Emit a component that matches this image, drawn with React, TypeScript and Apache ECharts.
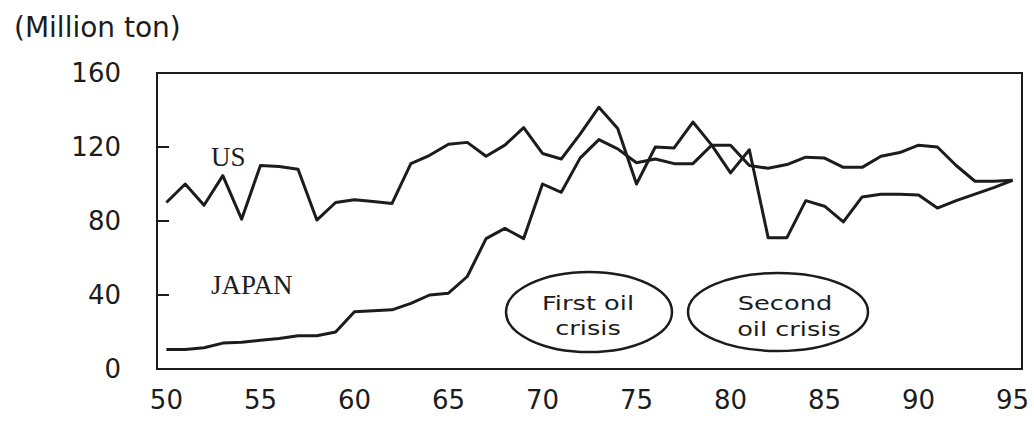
import React, { useEffect, useRef } from "react";
import * as echarts from "echarts";

const years = [
  50, 51, 52, 53, 54, 55, 56, 57, 58, 59,
  60, 61, 62, 63, 64, 65, 66, 67, 68, 69,
  70, 71, 72, 73, 74, 75, 76, 77, 78, 79,
  80, 81, 82, 83, 84, 85, 86, 87, 88, 89,
  90, 91, 92, 93, 94, 95,
];

const usOutput = [
  90, 100, 88.5, 104.5, 81, 110, 109.5, 108, 80.5, 90,
  91.5, 90.5, 89.5, 111, 115.5, 121.5, 122.5, 115, 121, 130.5,
  116.5, 113.5, 127, 141.5, 130, 100, 120, 119.5, 133.5, 121,
  106, 118.5, 71, 71, 91, 88, 79.5, 93, 94.5, 94.5,
  94, 87, 91, 94.5, 98, 102,
];

const japanOutput = [
  10.5, 10.5, 11.5, 14, 14.5, 15.5, 16.5, 18, 18, 20,
  31, 31.5, 32, 35.5, 40, 41, 50, 70.5, 76, 70.5,
  100, 95.5, 114, 124, 119, 111.5, 113.5, 111, 111, 121,
  121, 110, 108.5, 110.5, 114.5, 114, 109, 109, 115, 117,
  121, 120, 110, 101.5, 101.5, 102,
];

const xTickLabels = [50, 55, 60, 65, 70, 75, 80, 85, 90, 95];
const yMin = 0;
const yMax = 160;
const yStep = 40;

const INK = "#1c1c1c";
const SANS = "'DejaVu Sans', 'Liberation Sans', sans-serif";
const SERIF = "'Liberation Serif', 'DejaVu Serif', serif";

export default function App() {
  const ref = useRef<HTMLDivElement | null>(null);

  useEffect(() => {
    if (!ref.current) return;
    const chart = echarts.init(ref.current, null, { renderer: "svg" });

    const usData = years.map((y, i) => [y, usOutput[i]]);
    const jpData = years.map((y, i) => [y, japanOutput[i]]);

    const lineStyle = { color: INK, width: 3, join: "round" as const };

    const ellipseText = (text: string, x: number, y: number) => ({
      type: "text",
      x,
      y,
      scaleX: 1.35,
      z: 11,
      style: {
        text,
        font: `19px ${SANS}`,
        fill: INK,
        align: "center",
        verticalAlign: "middle",
      },
    });

    chart.setOption({
      animation: false,
      backgroundColor: "#ffffff",
      title: {
        text: "(Million ton)",
        left: 9,
        top: 8,
        textStyle: {
          fontFamily: SANS,
          fontSize: 28,
          fontWeight: "normal",
          color: INK,
        },
      },
      grid: {
        left: 157,
        right: 12,
        top: 73,
        bottom: 56,
        show: true,
        borderColor: INK,
        borderWidth: 2,
        backgroundColor: "transparent",
      },
      xAxis: {
        type: "value",
        min: 49.5,
        max: 95.5,
        axisLine: { show: true, lineStyle: { color: INK, width: 2 } },
        axisTick: { show: false },
        splitLine: { show: false },
        axisLabel: {
          customValues: xTickLabels,
          margin: 18,
          fontFamily: SANS,
          fontSize: 26,
          color: INK,
        },
      },
      yAxis: {
        type: "value",
        min: yMin,
        max: yMax,
        interval: yStep,
        axisLine: { show: true, lineStyle: { color: INK, width: 2 } },
        axisTick: {
          show: true,
          inside: true,
          length: 12,
          lineStyle: { color: INK, width: 2 },
        },
        splitLine: { show: false },
        axisLabel: {
          margin: 36,
          fontFamily: SANS,
          fontSize: 26,
          color: INK,
        },
      },
      series: [
        {
          name: "US",
          type: "line",
          data: usData,
          symbol: "none",
          lineStyle,
          z: 3,
        },
        {
          name: "JAPAN",
          type: "line",
          data: jpData,
          symbol: "none",
          lineStyle,
          z: 3,
        },
      ],
      graphic: [
        {
          type: "text",
          left: 211,
          top: 143,
          style: { text: "US", font: `27px ${SERIF}`, fill: INK },
        },
        {
          type: "text",
          left: 211,
          top: 271,
          style: { text: "JAPAN", font: `27px ${SERIF}`, fill: INK },
        },
        {
          type: "ellipse",
          shape: { cx: 589, cy: 312, rx: 83, ry: 40 },
          style: { fill: "#ffffff", stroke: INK, lineWidth: 2.5 },
          z: 10,
        },
        {
          type: "ellipse",
          shape: { cx: 778, cy: 312, rx: 90, ry: 39 },
          style: { fill: "#ffffff", stroke: INK, lineWidth: 2.5 },
          z: 10,
        },
        ellipseText("First oil", 588, 303),
        ellipseText("crisis", 588, 328),
        ellipseText("Second", 785, 303),
        ellipseText("oil crisis", 789, 329),
      ],
    });

    return () => {
      chart.dispose();
    };
  }, []);

  return (
    <div
      ref={ref}
      style={{
        position: "fixed",
        left: 0,
        top: 0,
        width: 1034,
        height: 425,
        background: "#ffffff",
      }}
    />
  );
}
